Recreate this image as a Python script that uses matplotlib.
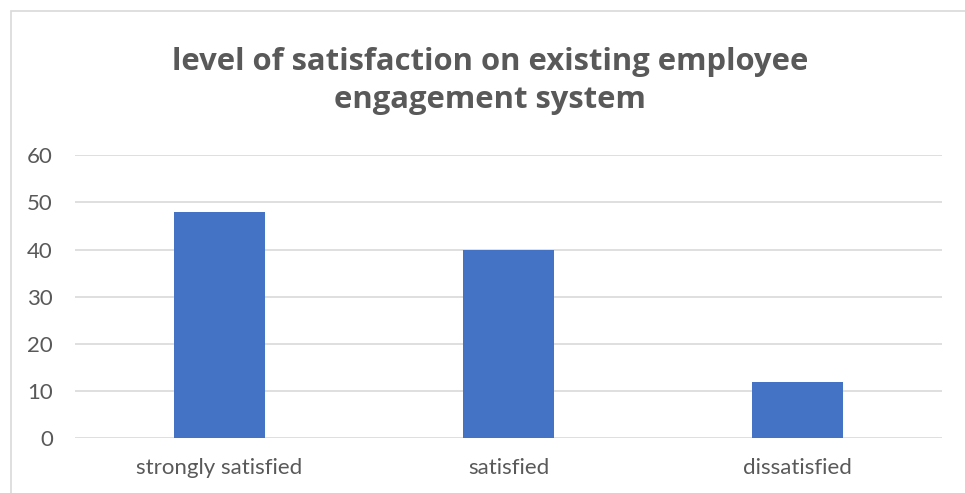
import matplotlib.pyplot as plt
from matplotlib.patches import Rectangle

categories = ['strongly satisfied', 'satisfied', 'dissatisfied']
values = [48, 40, 12]
yticks = [0, 10, 20, 30, 40, 50, 60]

TEXT = '#595959'
GRID = '#d9d9d9'
BAR = '#4472c4'

plt.rcParams['font.family'] = ['Lato', 'DejaVu Sans']

fig = plt.figure(figsize=(9.65, 4.93), dpi=100)
ax = fig.add_axes([0.0777, 0.111, 0.8985, 0.574])

# chart frame, open on the right and bottom
fig.patches.append(Rectangle((11 / 965, -0.2), 1.2, 0.2 + 482 / 493,
                             transform=fig.transFigure, fill=False,
                             edgecolor=GRID, linewidth=1.2))

x = range(len(categories))
ax.bar(x, values, width=0.315, color=BAR, zorder=3)

ax.set_xlim(-0.5, len(categories) - 0.5)
ax.set_ylim(0, 60)
ax.set_yticks(yticks)
ax.set_xticks(list(x))
ax.set_xticklabels(categories)
ax.yaxis.grid(True, color=GRID, linewidth=1.2, zorder=0)
for s in ax.spines.values():
    s.set_visible(False)
ax.tick_params(axis='both', length=0, labelsize=16, colors=TEXT)
ax.tick_params(axis='y', pad=16)
ax.tick_params(axis='x', pad=14)

fig.text(0.508, 0.836, 'level of satisfaction on existing employee\nengagement system',
         ha='center', va='center', fontsize=22.3, fontweight='bold', color=TEXT,
         family=['Open Sans', 'DejaVu Sans'], linespacing=1.32)

fig.savefig('out.png', dpi=100)
